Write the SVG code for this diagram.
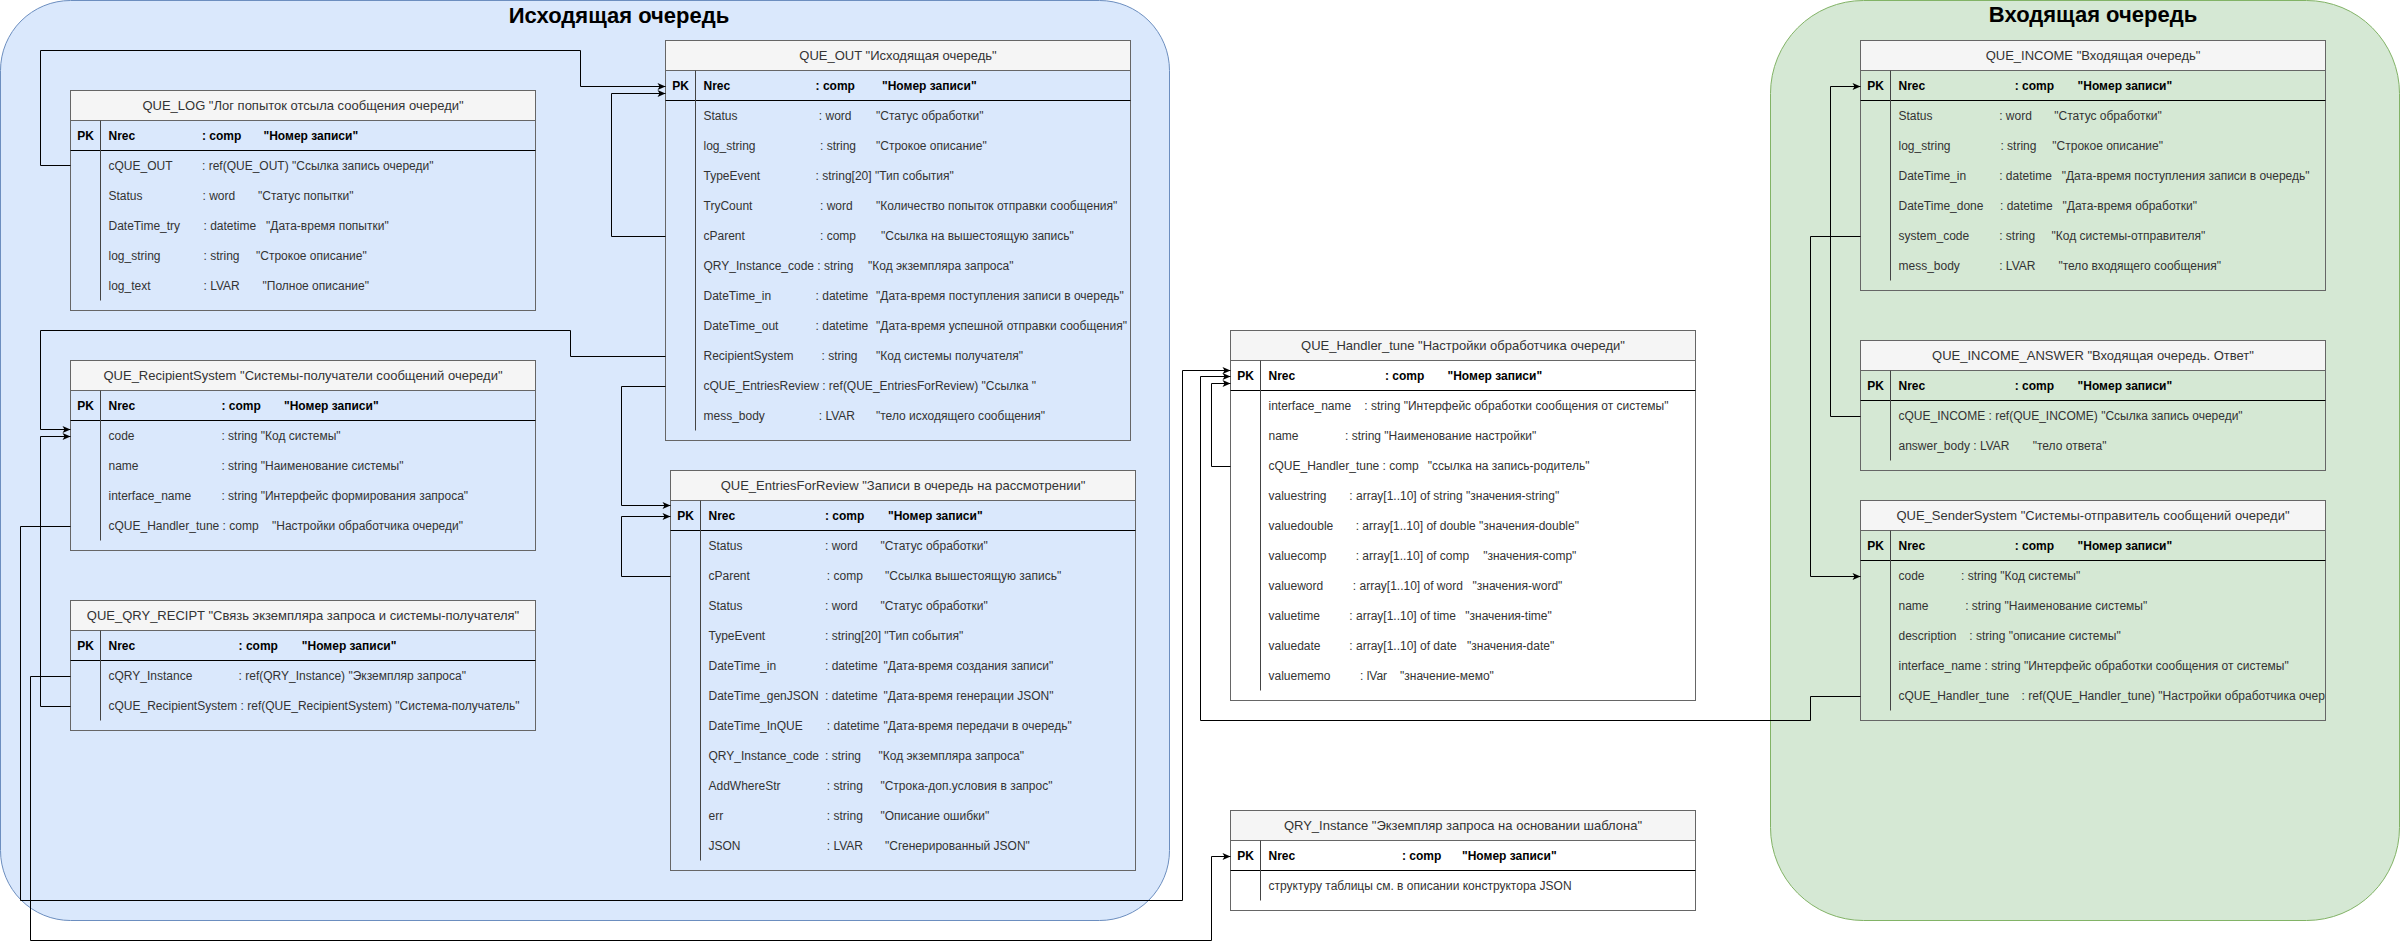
<svg xmlns="http://www.w3.org/2000/svg" width="2401" height="950" viewBox="0 0 2401 950">
<style>
text{font-family:"Liberation Sans",Arial,sans-serif;font-size:12px}
.cb{fill:#dae8fc;stroke:#6c8ebf;stroke-width:1}
.cg{fill:#d5e8d4;stroke:#82b366;stroke-width:1}
.tb{fill:none;stroke:#666666;stroke-width:1}
.hd{fill:#f5f5f5;stroke:#666666;stroke-width:1}
.pl{stroke:#000;stroke-width:1}
.dv{stroke:#444;stroke-width:1}
.t{fill:#333;text-anchor:middle;font-size:13px}
.p{font-weight:bold;fill:#000}
.pc{font-weight:bold;fill:#000;text-anchor:middle}
.r{fill:#333}
.big{font-size:22px;font-weight:bold;fill:#000;text-anchor:middle}
.cn path{fill:none;stroke:#000;stroke-width:1}
</style>
<defs>
<marker id="arr" markerWidth="10" markerHeight="10" refX="9" refY="5" orient="auto" markerUnits="userSpaceOnUse"><path d="M1,1.5 L9,5 L1,8.5 L3,5 Z" fill="#000"/></marker>
<clipPath id="cOut"><rect x="666" y="41" width="465" height="400"/></clipPath>
<clipPath id="cSnd"><rect x="1861" y="501" width="464" height="220"/></clipPath>
</defs>
<rect width="2401" height="950" fill="#ffffff"/>
<g id="outgoing_container">
<rect class="cb" x="0.5" y="0.5" width="1169" height="920" rx="70" ry="70"/>
<text class="big" x="619" y="22.5">Исходящая очередь</text>
</g>
<g id="incoming_container">
<rect class="cg" x="1770.5" y="0.5" width="629" height="920" rx="93" ry="93"/>
<text class="big" x="2093" y="22">Входящая очередь</text>
</g>

<g id="QUE_LOG">
<rect class="hd" x="70.5" y="90.5" width="465" height="30"/>
<rect class="tb" x="70.5" y="90.5" width="465" height="220"/>
<line class="pl" x1="70.5" y1="150.5" x2="535.5" y2="150.5"/>
<line class="dv" x1="100.5" y1="120.5" x2="100.5" y2="300.5"/>
<text class="t" x="303" y="110">QUE_LOG "Лог попыток отсыла сообщения очереди"</text>
<text class="pc" x="85.5" y="139.5">PK</text>
<text class="p" y="139.5"><tspan x="108.5">Nrec</tspan><tspan x="202">: comp</tspan><tspan x="263.5">"Номер записи"</tspan></text>
<text class="r" y="169.5"><tspan x="108.5">cQUE_OUT</tspan><tspan x="202">: ref(QUE_OUT) "Ссылка запись очереди"</tspan></text>
<text class="r" y="199.5"><tspan x="108.5">Status</tspan><tspan x="202.5">: word</tspan><tspan x="258">"Статус попытки"</tspan></text>
<text class="r" y="229.5"><tspan x="108.5">DateTime_try</tspan><tspan x="203.5">: datetime</tspan><tspan x="266">"Дата-время попытки"</tspan></text>
<text class="r" y="259.5"><tspan x="108.5">log_string</tspan><tspan x="203.5">: string</tspan><tspan x="256">"Строкое описание"</tspan></text>
<text class="r" y="289.5"><tspan x="108.5">log_text</tspan><tspan x="203.5">: LVAR</tspan><tspan x="262.5">"Полное описание"</tspan></text>
</g>

<g id="QUE_RecipientSystem">
<rect class="hd" x="70.5" y="360.5" width="465" height="30"/>
<rect class="tb" x="70.5" y="360.5" width="465" height="190"/>
<line class="pl" x1="70.5" y1="420.5" x2="535.5" y2="420.5"/>
<line class="dv" x1="100.5" y1="390.5" x2="100.5" y2="540.5"/>
<text class="t" x="303" y="380">QUE_RecipientSystem "Системы-получатели сообщений очереди"</text>
<text class="pc" x="85.5" y="409.5">PK</text>
<text class="p" y="409.5"><tspan x="108.5">Nrec</tspan><tspan x="221.4">: comp</tspan><tspan x="284">"Номер записи"</tspan></text>
<text class="r" y="439.5"><tspan x="108.5">code</tspan><tspan x="221.4">: string "Код системы"</tspan></text>
<text class="r" y="469.5"><tspan x="108.5">name</tspan><tspan x="221.4">: string "Наименование системы"</tspan></text>
<text class="r" y="499.5"><tspan x="108.5">interface_name</tspan><tspan x="221.4">: string "Интерфейс формирования запроса"</tspan></text>
<text class="r" y="529.5"><tspan x="108.5">cQUE_Handler_tune : comp</tspan><tspan x="272">"Настройки обработчика очереди"</tspan></text>
</g>

<g id="QUE_QRY_RECIPT">
<rect class="hd" x="70.5" y="600.5" width="465" height="30"/>
<rect class="tb" x="70.5" y="600.5" width="465" height="130"/>
<line class="pl" x1="70.5" y1="660.5" x2="535.5" y2="660.5"/>
<line class="dv" x1="100.5" y1="630.5" x2="100.5" y2="720.5"/>
<text class="t" x="303" y="620">QUE_QRY_RECIPT "Связь экземпляра запроса и системы-получателя"</text>
<text class="pc" x="85.5" y="649.5">PK</text>
<text class="p" y="649.5"><tspan x="108.5">Nrec</tspan><tspan x="238.6">: comp</tspan><tspan x="301.8">"Номер записи"</tspan></text>
<text class="r" y="679.5"><tspan x="108.5">cQRY_Instance</tspan><tspan x="238.6">: ref(QRY_Instance) "Экземпляр запроса"</tspan></text>
<text class="r" y="709.5"><tspan x="108.5">cQUE_RecipientSystem : ref(QUE_RecipientSystem) "Система-получатель"</tspan></text>
</g>

<g id="QUE_OUT">
<rect class="hd" x="665.5" y="40.5" width="465" height="30"/>
<rect class="tb" x="665.5" y="40.5" width="465" height="400"/>
<line class="pl" x1="665.5" y1="100.5" x2="1130.5" y2="100.5"/>
<line class="dv" x1="695.5" y1="70.5" x2="695.5" y2="430.5"/>
<text class="t" x="898" y="60">QUE_OUT "Исходящая очередь"</text>
<text class="pc" x="680.5" y="89.5">PK</text>
<text class="p" y="89.5"><tspan x="703.5">Nrec</tspan><tspan x="815.6">: comp</tspan><tspan x="882">"Номер записи"</tspan></text>
<g clip-path="url(#cOut)">
<text class="r" y="119.5"><tspan x="703.5">Status</tspan><tspan x="818.8">: word</tspan><tspan x="876">"Статус обработки"</tspan></text>
<text class="r" y="149.5"><tspan x="703.5">log_string</tspan><tspan x="820">: string</tspan><tspan x="876">"Строкое описание"</tspan></text>
<text class="r" y="179.5"><tspan x="703.5">TypeEvent</tspan><tspan x="815.6">: string[20] "Тип события"</tspan></text>
<text class="r" y="209.5"><tspan x="703.5">TryCount</tspan><tspan x="820">: word</tspan><tspan x="876">"Количество попыток отправки сообщения"</tspan></text>
<text class="r" y="239.5"><tspan x="703.5">cParent</tspan><tspan x="820">: comp</tspan><tspan x="881">"Ссылка на вышестоящую запись"</tspan></text>
<text class="r" y="269.5"><tspan x="703.5">QRY_Instance_code : string</tspan><tspan x="868">"Код экземпляра запроса"</tspan></text>
<text class="r" y="299.5"><tspan x="703.5">DateTime_in</tspan><tspan x="815.6">: datetime</tspan><tspan x="876">"Дата-время поступления записи в очередь"</tspan></text>
<text class="r" y="329.5"><tspan x="703.5">DateTime_out</tspan><tspan x="815.6">: datetime</tspan><tspan x="876">"Дата-время успешной отправки сообщения"</tspan></text>
<text class="r" y="359.5"><tspan x="703.5">RecipientSystem</tspan><tspan x="821.5">: string</tspan><tspan x="876">"Код системы получателя"</tspan></text>
<text class="r" y="389.5"><tspan x="703.5">cQUE_EntriesReview : ref(QUE_EntriesForReview) "Ссылка "</tspan></text>
<text class="r" y="419.5"><tspan x="703.5">mess_body</tspan><tspan x="818.8">: LVAR</tspan><tspan x="876">"тело исходящего сообщения"</tspan></text>
</g>
</g>

<g id="QUE_EntriesForReview">
<rect class="hd" x="670.5" y="470.5" width="465" height="30"/>
<rect class="tb" x="670.5" y="470.5" width="465" height="400"/>
<line class="pl" x1="670.5" y1="530.5" x2="1135.5" y2="530.5"/>
<line class="dv" x1="700.5" y1="500.5" x2="700.5" y2="860.5"/>
<text class="t" x="903" y="490">QUE_EntriesForReview "Записи в очередь на рассмотрении"</text>
<text class="pc" x="685.5" y="519.5">PK</text>
<text class="p" y="519.5"><tspan x="708.5">Nrec</tspan><tspan x="825">: comp</tspan><tspan x="888">"Номер записи"</tspan></text>
<text class="r" y="549.5"><tspan x="708.5">Status</tspan><tspan x="825">: word</tspan><tspan x="880.4">"Статус обработки"</tspan></text>
<text class="r" y="579.5"><tspan x="708.5">cParent</tspan><tspan x="826.8">: comp</tspan><tspan x="885">"Ссылка вышестоящую запись"</tspan></text>
<text class="r" y="609.5"><tspan x="708.5">Status</tspan><tspan x="825">: word</tspan><tspan x="880.4">"Статус обработки"</tspan></text>
<text class="r" y="639.5"><tspan x="708.5">TypeEvent</tspan><tspan x="825">: string[20] "Тип события"</tspan></text>
<text class="r" y="669.5"><tspan x="708.5">DateTime_in</tspan><tspan x="825">: datetime</tspan><tspan x="883.5">"Дата-время создания записи"</tspan></text>
<text class="r" y="699.5"><tspan x="708.5">DateTime_genJSON</tspan><tspan x="825">: datetime</tspan><tspan x="883.5">"Дата-время генерации JSON"</tspan></text>
<text class="r" y="729.5"><tspan x="708.5">DateTime_InQUE</tspan><tspan x="826.8">: datetime</tspan><tspan x="883.5">"Дата-время передачи в очередь"</tspan></text>
<text class="r" y="759.5"><tspan x="708.5">QRY_Instance_code</tspan><tspan x="825">: string</tspan><tspan x="878.5">"Код экземпляра запроса"</tspan></text>
<text class="r" y="789.5"><tspan x="708.5">AddWhereStr</tspan><tspan x="826.8">: string</tspan><tspan x="880.4">"Строка-доп.условия в запрос"</tspan></text>
<text class="r" y="819.5"><tspan x="708.5">err</tspan><tspan x="826.8">: string</tspan><tspan x="880.4">"Описание ошибки"</tspan></text>
<text class="r" y="849.5"><tspan x="708.5">JSON</tspan><tspan x="826.8">: LVAR</tspan><tspan x="885">"Сгенерированный JSON"</tspan></text>
</g>

<g id="QUE_Handler_tune">
<rect class="hd" x="1230.5" y="330.5" width="465" height="30"/>
<rect class="tb" x="1230.5" y="330.5" width="465" height="370"/>
<line class="pl" x1="1230.5" y1="390.5" x2="1695.5" y2="390.5"/>
<line class="dv" x1="1260.5" y1="360.5" x2="1260.5" y2="690.5"/>
<text class="t" x="1463" y="350">QUE_Handler_tune "Настройки обработчика очереди"</text>
<text class="pc" x="1245.5" y="379.5">PK</text>
<text class="p" y="379.5"><tspan x="1268.5">Nrec</tspan><tspan x="1385">: comp</tspan><tspan x="1447.5">"Номер записи"</tspan></text>
<text class="r" y="409.5"><tspan x="1268.5">interface_name</tspan><tspan x="1364.3">: string "Интерфейс обработки сообщения от системы"</tspan></text>
<text class="r" y="439.5"><tspan x="1268.5">name</tspan><tspan x="1345">: string "Наименование настройки"</tspan></text>
<text class="r" y="469.5"><tspan x="1268.5">cQUE_Handler_tune : comp</tspan><tspan x="1427.8">"ссылка на запись-родитель"</tspan></text>
<text class="r" y="499.5"><tspan x="1268.5">valuestring</tspan><tspan x="1349.3">: array[1..10] of string "значения-string"</tspan></text>
<text class="r" y="529.5"><tspan x="1268.5">valuedouble</tspan><tspan x="1355.7">: array[1..10] of double "значения-double"</tspan></text>
<text class="r" y="559.5"><tspan x="1268.5">valuecomp</tspan><tspan x="1355.7">: array[1..10] of comp</tspan><tspan x="1483.2">"значения-comp"</tspan></text>
<text class="r" y="589.5"><tspan x="1268.5">valueword</tspan><tspan x="1352.8">: array[1..10] of word</tspan><tspan x="1472.5">"значения-word"</tspan></text>
<text class="r" y="619.5"><tspan x="1268.5">valuetime</tspan><tspan x="1349.3">: array[1..10] of time</tspan><tspan x="1465.3">"значения-time"</tspan></text>
<text class="r" y="649.5"><tspan x="1268.5">valuedate</tspan><tspan x="1349.3">: array[1..10] of date</tspan><tspan x="1467">"значения-date"</tspan></text>
<text class="r" y="679.5"><tspan x="1268.5">valuememo</tspan><tspan x="1360">: lVar</tspan><tspan x="1400">"значение-мемо"</tspan></text>
</g>

<g id="QRY_Instance">
<rect class="hd" x="1230.5" y="810.5" width="465" height="30"/>
<rect class="tb" x="1230.5" y="810.5" width="465" height="100"/>
<line class="pl" x1="1230.5" y1="870.5" x2="1695.5" y2="870.5"/>
<line class="dv" x1="1260.5" y1="840.5" x2="1260.5" y2="900.5"/>
<text class="t" x="1463" y="830">QRY_Instance "Экземпляр запроса на основании шаблона"</text>
<text class="pc" x="1245.5" y="859.5">PK</text>
<text class="p" y="859.5"><tspan x="1268.5">Nrec</tspan><tspan x="1402">: comp</tspan><tspan x="1462">"Номер записи"</tspan></text>
<text class="r" x="1268.5" y="889.5">структуру таблицы см. в описании конструктора JSON</text>
</g>

<g id="QUE_INCOME">
<rect class="hd" x="1860.5" y="40.5" width="465" height="30"/>
<rect class="tb" x="1860.5" y="40.5" width="465" height="250"/>
<line class="pl" x1="1860.5" y1="100.5" x2="2325.5" y2="100.5"/>
<line class="dv" x1="1890.5" y1="70.5" x2="1890.5" y2="280.5"/>
<text class="t" x="2093" y="60">QUE_INCOME "Входящая очередь"</text>
<text class="pc" x="1875.5" y="89.5">PK</text>
<text class="p" y="89.5"><tspan x="1898.5">Nrec</tspan><tspan x="2014.7">: comp</tspan><tspan x="2077.6">"Номер записи"</tspan></text>
<text class="r" y="119.5"><tspan x="1898.5">Status</tspan><tspan x="1999.2">: word</tspan><tspan x="2054.3">"Статус обработки"</tspan></text>
<text class="r" y="149.5"><tspan x="1898.5">log_string</tspan><tspan x="2000.4">: string</tspan><tspan x="2052.3">"Строкое описание"</tspan></text>
<text class="r" y="179.5"><tspan x="1898.5">DateTime_in</tspan><tspan x="1999.2">: datetime</tspan><tspan x="2061.7">"Дата-время поступления записи в очередь"</tspan></text>
<text class="r" y="209.5"><tspan x="1898.5">DateTime_done</tspan><tspan x="2000">: datetime</tspan><tspan x="2062.5">"Дата-время обработки"</tspan></text>
<text class="r" y="239.5"><tspan x="1898.5">system_code</tspan><tspan x="1999.2">: string</tspan><tspan x="2051.5">"Код системы-отправителя"</tspan></text>
<text class="r" y="269.5"><tspan x="1898.5">mess_body</tspan><tspan x="1999.2">: LVAR</tspan><tspan x="2058.4">"тело входящего сообщения"</tspan></text>
</g>

<g id="QUE_INCOME_ANSWER">
<rect class="hd" x="1860.5" y="340.5" width="465" height="30"/>
<rect class="tb" x="1860.5" y="340.5" width="465" height="130"/>
<line class="pl" x1="1860.5" y1="400.5" x2="2325.5" y2="400.5"/>
<line class="dv" x1="1890.5" y1="370.5" x2="1890.5" y2="460.5"/>
<text class="t" x="2093" y="360">QUE_INCOME_ANSWER "Входящая очередь. Ответ"</text>
<text class="pc" x="1875.5" y="389.5">PK</text>
<text class="p" y="389.5"><tspan x="1898.5">Nrec</tspan><tspan x="2014.7">: comp</tspan><tspan x="2077.6">"Номер записи"</tspan></text>
<text class="r" y="419.5"><tspan x="1898.5">cQUE_INCOME : ref(QUE_INCOME) "Ссылка запись очереди"</tspan></text>
<text class="r" y="449.5"><tspan x="1898.5">answer_body : LVAR</tspan><tspan x="2032.7">"тело ответа"</tspan></text>
</g>

<g id="QUE_SenderSystem">
<rect class="hd" x="1860.5" y="500.5" width="465" height="30"/>
<rect class="tb" x="1860.5" y="500.5" width="465" height="220"/>
<line class="pl" x1="1860.5" y1="560.5" x2="2325.5" y2="560.5"/>
<line class="dv" x1="1890.5" y1="530.5" x2="1890.5" y2="710.5"/>
<text class="t" x="2093" y="520">QUE_SenderSystem "Системы-отправитель сообщений очереди"</text>
<text class="pc" x="1875.5" y="549.5">PK</text>
<text class="p" y="549.5"><tspan x="1898.5">Nrec</tspan><tspan x="2014.7">: comp</tspan><tspan x="2077.6">"Номер записи"</tspan></text>
<g clip-path="url(#cSnd)">
<text class="r" y="579.5"><tspan x="1898.5">code</tspan><tspan x="1961">: string "Код системы"</tspan></text>
<text class="r" y="609.5"><tspan x="1898.5">name</tspan><tspan x="1965.2">: string "Наименование системы"</tspan></text>
<text class="r" y="639.5"><tspan x="1898.5">description</tspan><tspan x="1969.3">: string "описание системы"</tspan></text>
<text class="r" y="669.5"><tspan x="1898.5">interface_name : string "Интерфейс обработки сообщения от системы"</tspan></text>
<text class="r" y="699.5"><tspan x="1898.5">cQUE_Handler_tune</tspan><tspan x="2021.6">: ref(QUE_Handler_tune) "Настройки обработчика очереди"</tspan></text>
</g>
</g>

<g id="connectors" class="cn">
<path d="M70.5,165.5 H40.5 V50.5 H580.5 V86.5 H665.5" marker-end="url(#arr)"/>
<path d="M665.5,236.5 H611.5 V93.5 H665.5" marker-end="url(#arr)"/>
<path d="M665.5,356.5 H570.5 V330.5 H40.5 V429.5 H70.5" marker-end="url(#arr)"/>
<path d="M70.5,706.5 H40.5 V436.5 H70.5" marker-end="url(#arr)"/>
<path d="M70.5,676.5 H30.5 V940.5 H1211.5 V856.5 H1230.5" marker-end="url(#arr)"/>
<path d="M70.5,526.5 H20.5 V900.5 H1182.5 V370.5 H1230.5" marker-end="url(#arr)"/>
<path d="M1860.5,696.5 H1810.5 V720.5 H1200.5 V376.5 H1230.5" marker-end="url(#arr)"/>
<path d="M1230.5,466.5 H1211.5 V383.5 H1230.5" marker-end="url(#arr)"/>
<path d="M665.5,386.5 H621.5 V505.5 H670.5" marker-end="url(#arr)"/>
<path d="M670.5,576.5 H621.5 V516.5 H670.5" marker-end="url(#arr)"/>
<path d="M1860.5,416.5 H1830.5 V86.5 H1860.5" marker-end="url(#arr)"/>
<path d="M1860.5,236.5 H1810.5 V576.5 H1860.5" marker-end="url(#arr)"/>
</g>
</svg>
